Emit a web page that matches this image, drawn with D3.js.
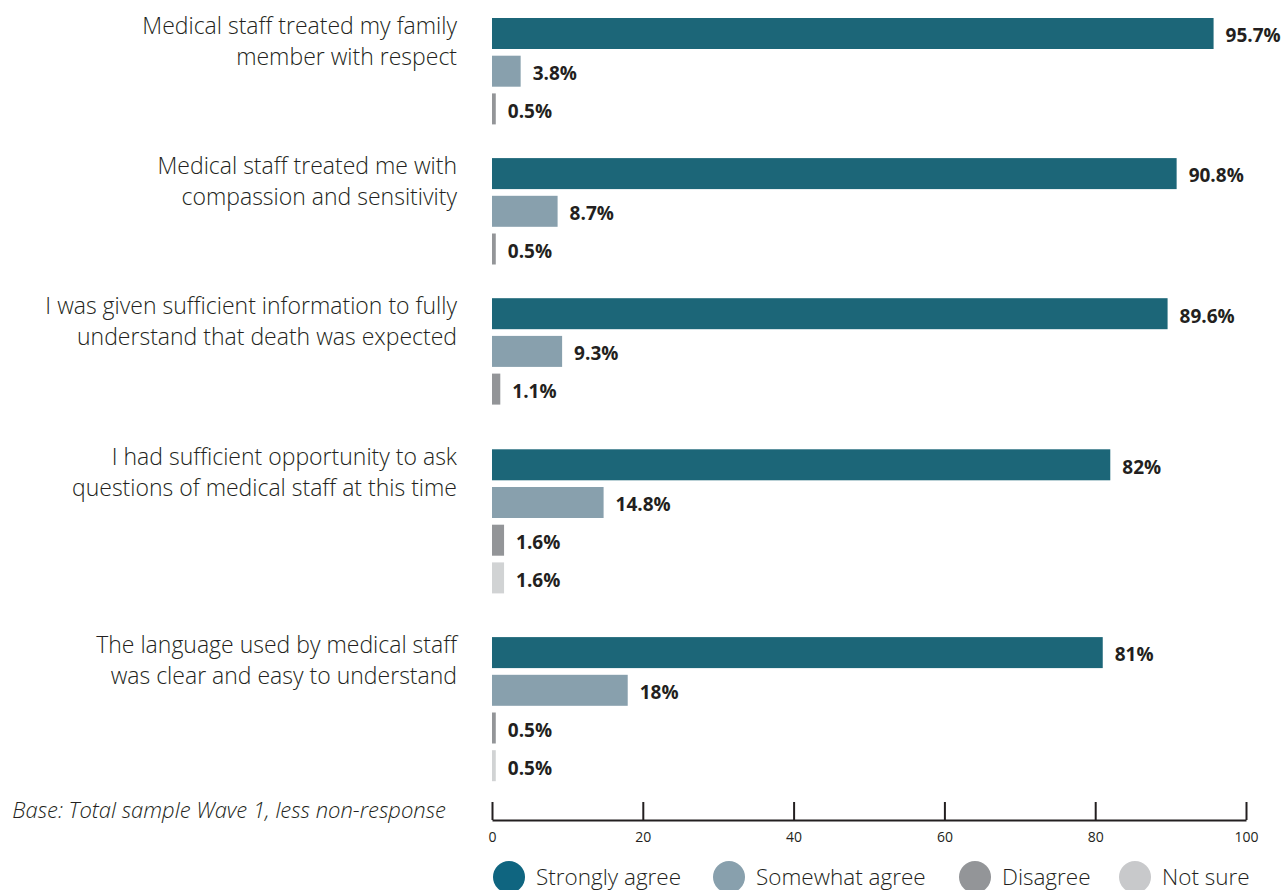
<!DOCTYPE html>
<html>
<head>
<meta charset="utf-8">
<script src="https://cdn.jsdelivr.net/npm/d3@7"></script>
<style>
  html, body { margin: 0; padding: 0; background: #fff; }
  svg { display: block; }
</style>
</head>
<body>
<script>
// Survey statements (each drawn on two lines)
const categories = [
  ["Medical staff treated my family", "member with respect"],
  ["Medical staff treated me with", "compassion and sensitivity"],
  ["I was given sufficient information to fully", "understand that death was expected"],
  ["I had sufficient opportunity to ask", "questions of medical staff at this time"],
  ["The language used by medical staff", "was clear and easy to understand"]
];
const seriesNames = ["Strongly agree", "Somewhat agree", "Disagree", "Not sure"];
const stronglyAgree = [95.7, 90.8, 89.6, 82, 81];
const somewhatAgree = [3.8, 8.7, 9.3, 14.8, 18];
const disagree      = [0.5, 0.5, 1.1, 1.6, 0.5];
const notSure       = [null, null, null, 1.6, 0.5];
const xTicks = [0, 20, 40, 60, 80, 100];
const footnote = "Base: Total sample Wave 1, less non-response";

const seriesValues = [stronglyAgree, somewhatAgree, disagree, notSure];
const barColors = ["#1c6678", "#88a0ad", "#939598", "#d1d3d4"];
const legendColors = ["#0f6580", "#88a0ad", "#939598", "#c8c9cb"];
const ink = "#231f20";

const W = 1284, H = 890;
const svg = d3.select("body").append("svg").attr("width", W).attr("height", H);

const x = d3.scaleLinear().domain([0, 100]).range([492, 1246]);

// vertical layout: bars stacked within each statement, gaps between statements
const barH = 31, slot = 37.7;
const firstTop = 18;
const groupGaps = [27, 27, 38, 37];

const groups = categories.map((lines, i) => ({
  lines,
  bars: seriesValues.map((vals, s) => ({ s, v: vals[i] })).filter(d => d.v != null)
}));
let cursorY = firstTop;
groups.forEach((g, i) => {
  g.y0 = cursorY;
  cursorY += g.bars.length * slot + (groupGaps[i] || 0);
});

const labelFont = "'Open Sans', 'Noto Sans', sans-serif";

const gSel = svg.selectAll("g.group").data(groups).join("g")
  .attr("class", "group")
  .attr("transform", d => `translate(0,${d.y0})`);

// statement labels, right-aligned left of the bars
gSel.append("text")
  .attr("text-anchor", "end")
  .attr("font-family", labelFont)
  .attr("font-weight", 300)
  .attr("font-size", 23)
  .attr("fill", ink)
  .selectAll("tspan").data(d => d.lines).join("tspan")
  .attr("x", 457)
  .attr("y", (d, i) => 16 + i * 31)
  .text(d => d);

const bars = gSel.selectAll("g.bar").data(d => d.bars).join("g").attr("class", "bar");

bars.append("rect")
  .attr("x", x(0))
  .attr("y", (d, i) => i * slot)
  .attr("width", d => x(d.v) - x(0))
  .attr("height", barH)
  .attr("fill", d => barColors[d.s]);

bars.append("text")
  .attr("x", d => x(d.v) + 12)
  .attr("y", (d, i) => i * slot + barH / 2 + 2)
  .attr("dy", "0.36em")
  .attr("font-family", labelFont)
  .attr("font-weight", 700)
  .attr("font-size", 19)
  .attr("fill", ink)
  .text(d => `${d.v}%`);

// x axis with ticks pointing up from the baseline
const axisY = 820;
const axis = d3.axisBottom(x).tickValues(xTicks).tickSizeInner(-18).tickSizeOuter(0).tickPadding(12);
const ax = svg.append("g").attr("transform", `translate(0,${axisY})`).call(axis);
ax.select(".domain").attr("stroke", ink).attr("stroke-width", 2);
ax.selectAll(".tick line").attr("stroke", ink).attr("stroke-width", 2);
ax.selectAll(".tick text")
  .attr("fill", ink)
  .attr("font-family", labelFont)
  .attr("font-size", 14);

// footnote
svg.append("text")
  .attr("x", 446).attr("y", 818)
  .attr("text-anchor", "end")
  .attr("font-family", labelFont)
  .attr("font-style", "italic")
  .attr("font-weight", 300)
  .attr("font-size", 22)
  .attr("fill", ink)
  .text(footnote);

// legend
const legendX = [509, 729, 975, 1135];
const leg = svg.selectAll("g.legend").data(seriesNames).join("g")
  .attr("class", "legend")
  .attr("transform", (d, i) => `translate(${legendX[i]},877)`);
leg.append("circle").attr("r", 16).attr("fill", (d, i) => legendColors[i]);
leg.append("text")
  .attr("x", 27).attr("y", 0).attr("dy", "0.36em")
  .attr("font-family", labelFont)
  .attr("font-weight", 300)
  .attr("font-size", 22.5)
  .attr("fill", ink)
  .text(d => d);
</script>
</body>
</html>
